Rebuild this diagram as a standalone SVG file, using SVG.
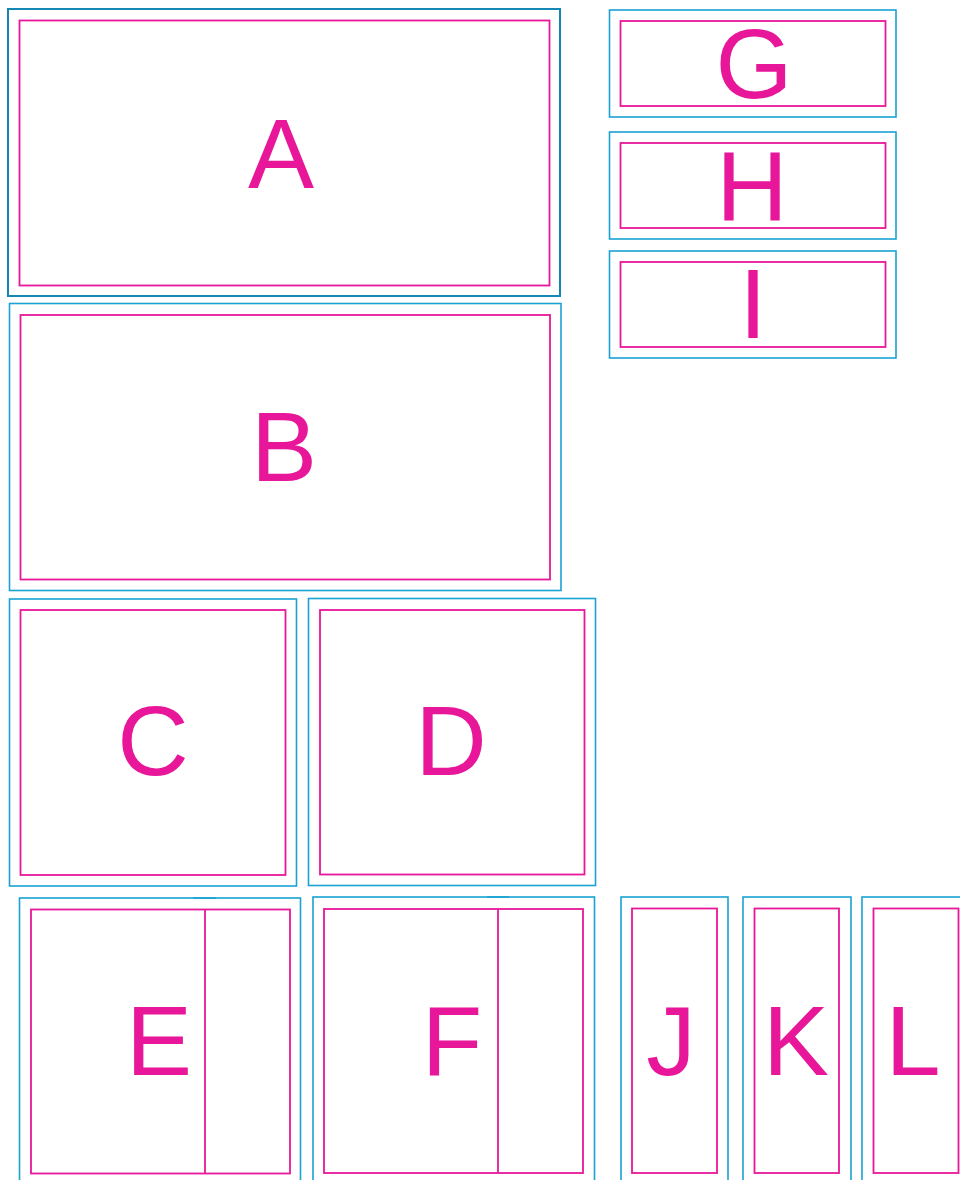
<svg xmlns="http://www.w3.org/2000/svg" width="960" height="1180" viewBox="0 0 960 1180">
<style>
.o{fill:none;stroke:#1aa2d2;stroke-width:1.6}
.od{fill:none;stroke:#1487b4;stroke-width:2}
.i{fill:none;stroke:#e8179a;stroke-width:1.8}
.t{fill:#e8179a;font-family:"Liberation Sans",Arial,sans-serif;font-size:99px;text-anchor:middle}
</style>
<rect width="960" height="1180" fill="#fff"/>
<g id="A"><rect class="od" x="8" y="9" width="552" height="287"/><rect class="i" x="19.5" y="20.5" width="530" height="265"/><text class="t" x="281" y="188">A</text></g>
<g id="B"><rect class="o" x="9.5" y="303.5" width="551.5" height="287"/><rect class="i" x="20.5" y="315" width="529.5" height="264.5"/><text class="t" x="284" y="481">B</text></g>
<g id="C"><rect class="o" x="9.5" y="599" width="287" height="287"/><rect class="i" x="20.5" y="610" width="265" height="265"/><text class="t" x="153" y="775">C</text></g>
<g id="D"><rect class="o" x="308.5" y="598.5" width="287" height="287"/><rect class="i" x="320" y="610" width="264.5" height="264.5"/><text class="t" x="451" y="775">D</text></g>
<g id="G"><rect class="o" x="609.5" y="10" width="286.5" height="107"/><rect class="i" x="620.5" y="21" width="265" height="85"/><text class="t" x="754" y="98">G</text></g>
<g id="H"><rect class="o" x="609.5" y="132" width="286.5" height="107"/><rect class="i" x="620.5" y="143" width="265" height="85"/><text class="t" x="752" y="220">H</text></g>
<g id="I"><rect class="o" x="609.5" y="251" width="286.5" height="107"/><rect class="i" x="620.5" y="262" width="265" height="85"/><text class="t" x="753" y="338">I</text></g>
<g id="E"><rect class="o" x="19.5" y="898" width="281" height="300"/><line class="o" x1="193" y1="898" x2="216" y2="898" stroke-width="2.5"/><rect class="i" x="31" y="909.5" width="259" height="264"/><line class="i" x1="205" y1="909.5" x2="205" y2="1173.5"/><text class="t" x="159" y="1075">E</text></g>
<g id="F"><rect class="o" x="313" y="897" width="281.5" height="300"/><line class="o" x1="487" y1="897" x2="509" y2="897" stroke-width="2.5"/><rect class="i" x="324" y="909" width="259" height="264"/><line class="i" x1="498" y1="909" x2="498" y2="1173"/><text class="t" x="452" y="1075">F</text></g>
<g id="J"><rect class="o" x="621" y="897" width="107" height="300"/><rect class="i" x="632" y="908.5" width="85" height="264.5"/><text class="t" x="671" y="1075">J</text></g>
<g id="K"><rect class="o" x="743" y="897" width="108" height="300"/><rect class="i" x="754.5" y="908.5" width="84.5" height="264.5"/><text class="t" x="796" y="1075">K</text></g>
<g id="L"><rect class="o" x="862" y="897" width="110" height="300"/><rect class="i" x="873.5" y="908.5" width="85" height="264.5"/><text class="t" x="913" y="1075">L</text></g>
<g id="connectors"></g>
</svg>
